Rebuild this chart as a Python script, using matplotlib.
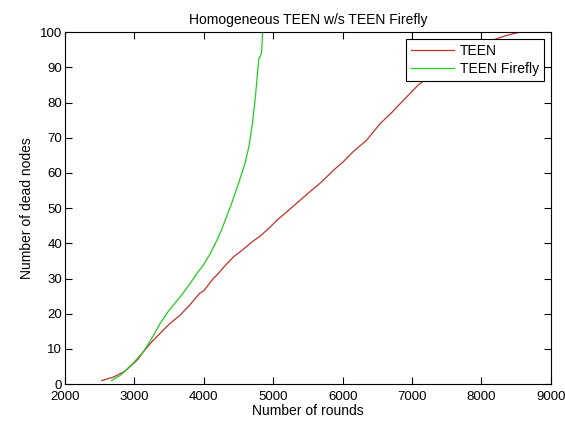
import matplotlib
matplotlib.use("Agg")
import matplotlib.pyplot as plt

plt.rcParams['font.family'] = ['Liberation Sans', 'DejaVu Sans']

# values
teen_rounds = [2530, 2700, 2850, 2940, 3050, 3130, 3250, 3370, 3500, 3660, 3800,
               3940, 4000, 4136, 4190, 4300, 4430, 4550, 4700, 4810, 4950, 5050,
               5200, 5390, 5550, 5700, 5870, 6000, 6150, 6345, 6540, 6700, 6830,
               7090, 7400, 7750, 8000, 8170, 8350, 8550]
teen_dead = [1, 2, 3.5, 5, 7, 9.2, 12, 14.4, 17, 19.6, 22.5,
             25.8, 26.5, 30, 31, 33.5, 36.2, 38, 40.5, 42, 44.5, 46.5,
             49, 52.3, 55, 57.5, 60.8, 63, 66, 69.3, 74, 77, 79.7,
             85, 89.5, 94, 96.5, 97.8, 99, 100]

firefly_rounds = [2670, 2800, 2980, 3130, 3250, 3370, 3500, 3660, 3800, 3900,
                  4000, 4090, 4180, 4260, 4400, 4500, 4593, 4650, 4700, 4740,
                  4770, 4792, 4832, 4847]
firefly_dead = [1, 2.5, 5.9, 9.2, 13, 17.2, 21, 24.8, 28.5, 31.4,
                34, 37, 40.5, 44, 51.3, 57, 62.7, 67.5, 74, 81,
                87.5, 92.3, 94, 100]

fig = plt.figure(figsize=(5.65, 4.23), dpi=100)
ax = fig.add_axes([0.115, 0.092, 0.86, 0.832])

ax.plot(teen_rounds, teen_dead, color='#c0302a', linewidth=0.9, label='TEEN')
ax.plot(firefly_rounds, firefly_dead, color='#22cc22', linewidth=0.9, label='TEEN Firefly')

ax.set_xlim(2000, 9000)
ax.set_ylim(0, 100)
ax.set_xticks(range(2000, 9001, 1000))
ax.set_yticks(range(0, 101, 10))
ax.tick_params(direction='in', length=5, width=0.8, top=True, right=True,
               labelsize=9.5, pad=2)
ax.tick_params(axis='x', pad=5)
for s in ax.spines.values():
    s.set_linewidth(0.8)

ax.set_title('Homogeneous TEEN w/s TEEN Firefly', fontsize=10, pad=6)
ax.set_xlabel('Number of rounds', fontsize=10, labelpad=1)
ax.set_ylabel('Number of dead nodes', fontsize=10, labelpad=4)

leg = ax.legend(loc='upper right', fontsize=10, fancybox=False, framealpha=1,
                edgecolor='black', handlelength=3.1, handletextpad=0.4,
                borderaxespad=0.5, borderpad=0.35, labelspacing=0.3)
leg.get_frame().set_linewidth(0.8)

fig.savefig('out.png', dpi=100, facecolor='white')
